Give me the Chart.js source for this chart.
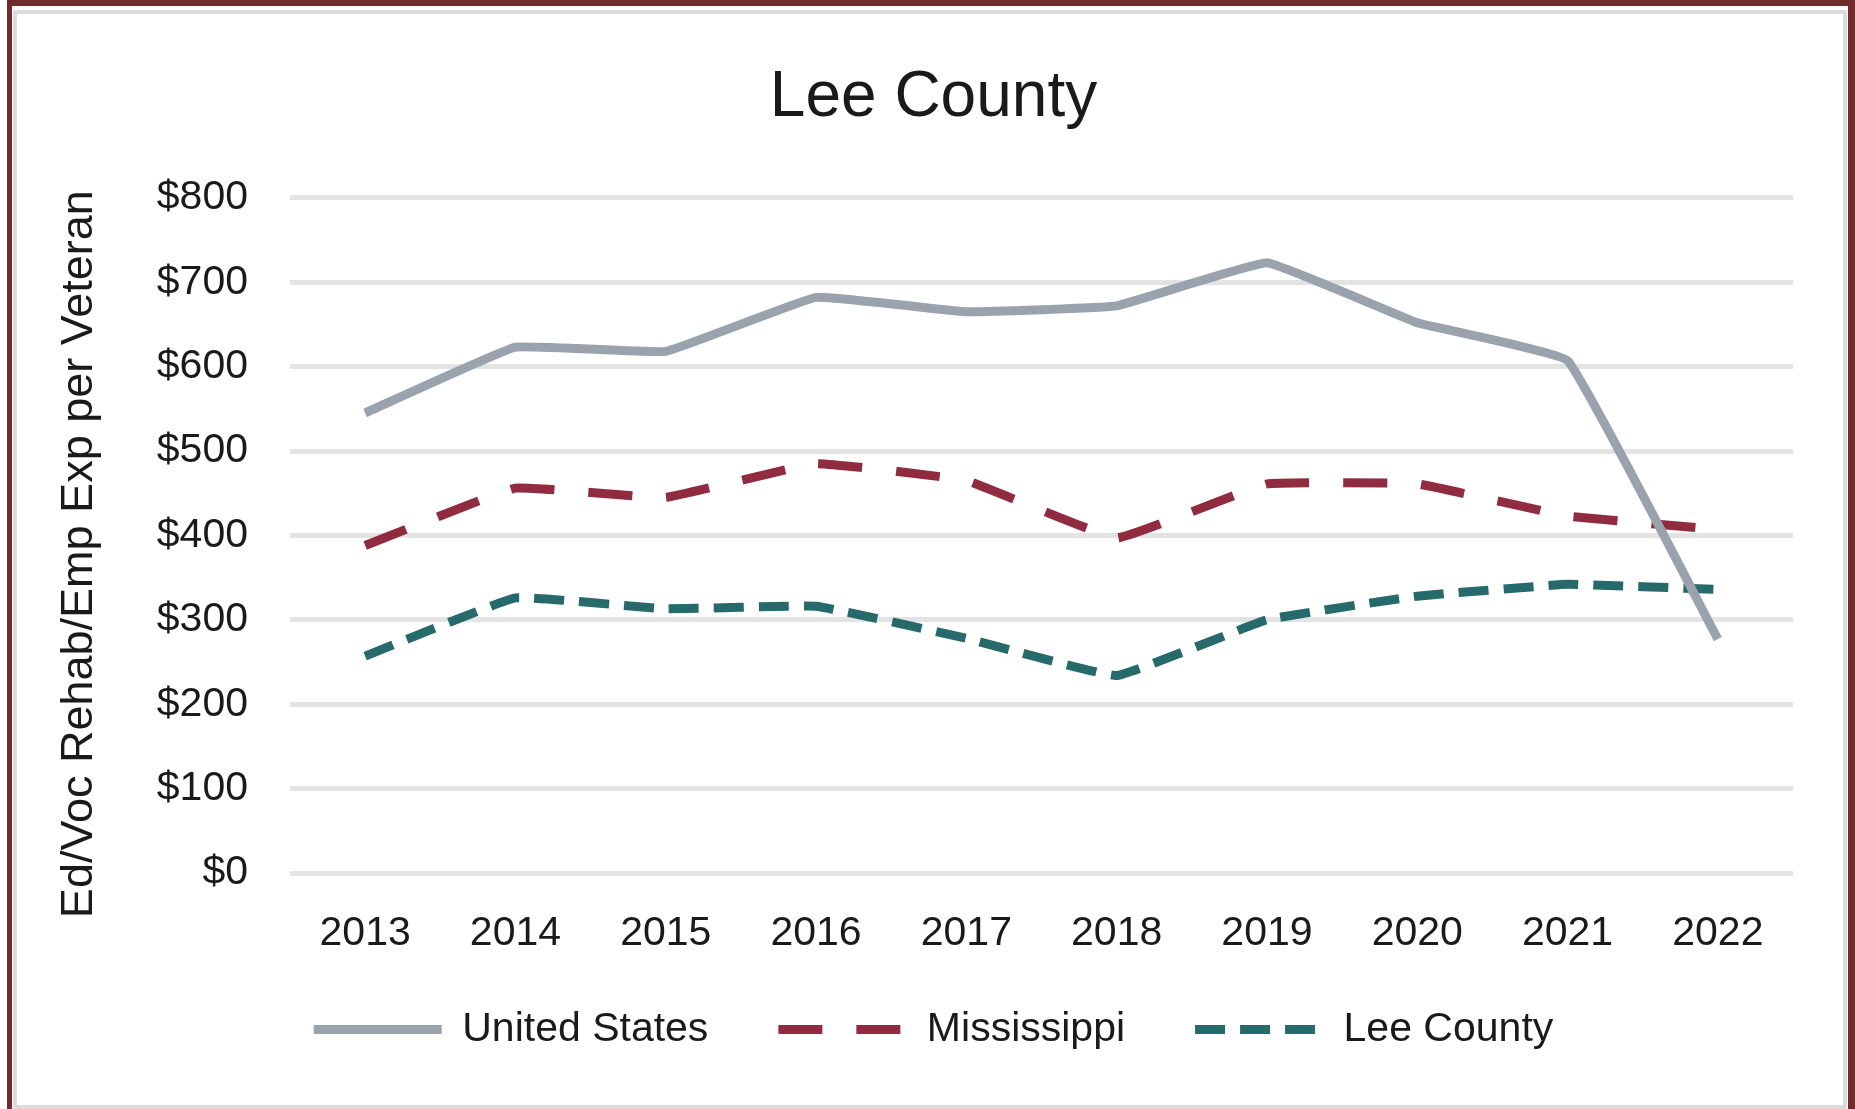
<!DOCTYPE html>
<html>
<head>
<meta charset="utf-8">
<script src="https://cdn.jsdelivr.net/npm/chart.js@4.4.1/dist/chart.umd.min.js"></script>
<style>
    html, body { margin: 0; padding: 0; background: #fff; }
    #wrap { position: relative; width: 1855px; height: 1109px; overflow: hidden; }
    .outer { position: absolute; left: 7px; top: 0; width: 1848px; height: 1109px; box-sizing: border-box;
             border-left: 5px solid #722a2a; border-top: 6px solid #722a2a; border-right: 7px solid #722a2a; }
    .frame { position: absolute; left: 13px; top: 10px; width: 1834px; height: 1099px; box-sizing: border-box;
             border: 4px solid #dcdcdc; }
    #box { position: absolute; left: 0; top: 0; width: 1855px; height: 1109px; }
</style>
</head>
<body>
<div id="wrap">
    <div class="outer"></div>
    <div class="frame"></div>
    <div id="box"><canvas id="leeChart"></canvas></div>
</div>
<script>
// Data
const years = ['2013', '2014', '2015', '2016', '2017', '2018', '2019', '2020', '2021', '2022'];
const unitedStates = [545, 623, 618, 682, 665, 672, 723, 652, 607, 277];
const mississippi = [388, 456, 445, 485, 465, 397, 461, 461, 423, 407];
const leeCounty = [257, 326, 313, 316, 278, 234, 300, 328, 342, 336];
const yTicks = [0, 100, 200, 300, 400, 500, 600, 700, 800];

const FONT = "'Liberation Sans', Arial, sans-serif";
const TEXT = '#1a1a1a';

// Legend padding is both the item gap and its vertical space, so lift it a bit after layout
const legendNudge = {
    id: 'legendNudge',
    afterLayout: (chart) => {
        if (chart.legend) {
            chart.legend.top -= 12;
            chart.legend.bottom -= 12;
        }
    }
};

document.addEventListener('DOMContentLoaded', () => {
    const ctx = document.getElementById('leeChart').getContext('2d');

    new Chart(ctx, {
        type: 'line',
        data: {
            labels: years,
            datasets: [
                {
                    label: 'United States',
                    data: unitedStates,
                    borderColor: '#9aa3ad',
                    borderWidth: 9,
                    borderJoinStyle: 'round',
                    tension: 0.08
                },
                {
                    label: 'Mississippi',
                    data: mississippi,
                    borderColor: '#912b3f',
                    borderWidth: 9,
                    borderDash: [44, 34],
                    tension: 0.08
                },
                {
                    label: 'Lee County',
                    data: leeCounty,
                    borderColor: '#266a6c',
                    borderWidth: 9,
                    borderDash: [30, 15],
                    tension: 0.08
                }
            ]
        },
        plugins: [legendNudge],
        options: {
            responsive: true,
            maintainAspectRatio: false,
            animation: false,
            devicePixelRatio: 1,
            elements: { point: { radius: 0, hoverRadius: 0 } },
            layout: { padding: { top: 0, left: 74, right: 62, bottom: 37 } },
            plugins: {
                title: {
                    display: true,
                    text: 'Lee County',
                    color: TEXT,
                    font: { family: FONT, size: 64, weight: 'normal' },
                    padding: { top: 60, bottom: 61 }
                },
                legend: {
                    position: 'bottom',
                    labels: {
                        color: TEXT,
                        font: { family: FONT, size: 41 },
                        usePointStyle: true,
                        pointStyleWidth: 128,
                        padding: 70,
                        // dashes and widths come from the datasets, not the point style
                        generateLabels: (chart) => chart.data.datasets.map((ds, i) => ({
                            text: ds.label,
                            datasetIndex: i,
                            fillStyle: ds.borderColor,
                            strokeStyle: ds.borderColor,
                            lineWidth: ds.borderWidth,
                            lineDash: ds.borderDash || [],
                            lineCap: 'butt',
                            pointStyle: 'line',
                            fontColor: TEXT,
                            hidden: false
                        }))
                    }
                },
                tooltip: { enabled: false }
            },
            scales: {
                x: {
                    offset: true,
                    grid: { display: false, drawTicks: false },
                    border: { display: false },
                    ticks: {
                        color: TEXT,
                        font: { family: FONT, size: 41 },
                        padding: 36,
                        maxRotation: 0
                    },
                    afterFit: (scale) => { scale.height = 78; }
                },
                y: {
                    min: 0,
                    max: 800,
                    afterBuildTicks: (scale) => {
                        scale.ticks = yTicks.map(v => ({ value: v }));
                    },
                    grid: { color: '#e3e3e3', lineWidth: 5, drawTicks: false },
                    border: { display: false },
                    ticks: {
                        color: TEXT,
                        font: { family: FONT, size: 41 },
                        padding: 42,
                        callback: (value) => '$' + value
                    },
                    title: {
                        display: true,
                        text: 'Ed/Voc Rehab/Emp Exp per Veteran   ',
                        color: TEXT,
                        font: { family: FONT, size: 45 },
                        padding: { top: -21, bottom: 0 }
                    },
                    afterFit: (scale) => { scale.width = 216; }
                }
            }
        }
    });
});
</script>
</body>
</html>
